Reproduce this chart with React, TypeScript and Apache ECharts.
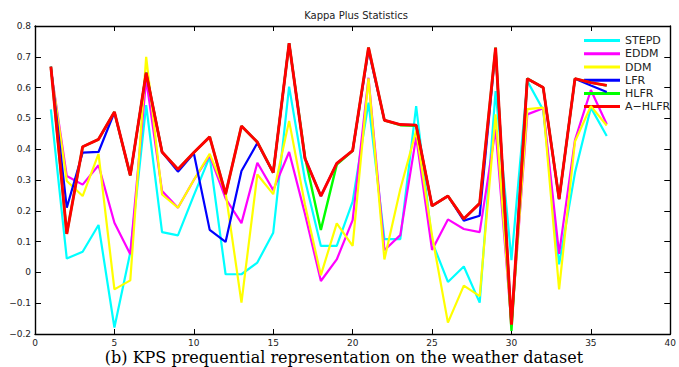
import React, { useEffect, useRef } from "react";
import * as echarts from "echarts";

const steps = [1, 2, 3, 4, 5, 6, 7, 8, 9, 10, 11, 12, 13, 14, 15, 16, 17, 18, 19, 20, 21, 22, 23, 24, 25, 26, 27, 28, 29, 30, 31, 32, 33, 34, 35, 36];

const stepd = [0.529, 0.045, 0.067, 0.154, -0.179, 0.065, 0.543, 0.131, 0.12, 0.25, 0.375, -0.006, -0.006, 0.032, 0.129, 0.603, 0.3, 0.086, 0.086, 0.23, 0.551, 0.108, 0.108, 0.54, 0.1, -0.031, 0.019, -0.098, 0.589, 0.04, 0.621, 0.527, 0.026, 0.324, 0.535, 0.443];
const eddm = [0.66, 0.313, 0.285, 0.348, 0.161, 0.059, 0.627, 0.264, 0.21, 0.3, 0.38, 0.24, 0.16, 0.356, 0.267, 0.391, 0.19, -0.028, 0.042, 0.17, 0.632, 0.072, 0.121, 0.44, 0.073, 0.172, 0.141, 0.131, 0.465, -0.17, 0.513, 0.533, 0.06, 0.43, 0.592, 0.481];
const ddm = [0.66, 0.297, 0.248, 0.385, -0.055, -0.026, 0.7, 0.253, 0.21, 0.3, 0.385, 0.26, -0.098, 0.318, 0.254, 0.492, 0.22, -0.009, 0.159, 0.086, 0.63, 0.042, 0.27, 0.46, 0.12, -0.163, -0.043, -0.077, 0.513, -0.17, 0.53, 0.535, -0.055, 0.425, 0.54, 0.477];
const lfr = [0.668, 0.21, 0.389, 0.391, 0.52, 0.315, 0.648, 0.391, 0.327, 0.387, 0.138, 0.099, 0.329, 0.42, 0.324, 0.744, 0.37, 0.248, 0.354, 0.395, 0.722, 0.494, 0.48, 0.478, 0.216, 0.248, 0.168, 0.184, 0.725, -0.17, 0.629, 0.6, 0.238, 0.629, 0.607, 0.586];
const hlfr = [0.668, 0.125, 0.408, 0.432, 0.521, 0.315, 0.648, 0.391, 0.335, 0.389, 0.44, 0.254, 0.475, 0.423, 0.324, 0.744, 0.375, 0.138, 0.35, 0.395, 0.73, 0.494, 0.478, 0.476, 0.216, 0.248, 0.174, 0.224, 0.73, -0.19, 0.629, 0.6, 0.238, 0.629, 0.616, 0.607];
const ahlfr = [0.668, 0.125, 0.408, 0.432, 0.521, 0.315, 0.648, 0.391, 0.335, 0.389, 0.44, 0.254, 0.475, 0.423, 0.324, 0.744, 0.37, 0.248, 0.354, 0.395, 0.73, 0.494, 0.48, 0.478, 0.216, 0.248, 0.174, 0.224, 0.73, -0.17, 0.629, 0.6, 0.238, 0.629, 0.616, 0.607];

const seriesNames = ["STEPD", "EDDM", "DDM", "LFR", "HLFR", "A\u2212HLFR"];
const seriesColors = ["#00ffff", "#ff00ff", "#ffff00", "#0000ff", "#00ff00", "#ff0000"];
const seriesWidths = [2.2, 2.2, 2.2, 2.2, 2.4, 2.9];
const seriesValues = [stepd, eddm, ddm, lfr, hlfr, ahlfr];

const xTicks = { min: 0, max: 40, interval: 5 };
const yTicks = { min: -0.2, max: 0.8, interval: 0.1 };

const titleText = "Kappa Plus Statistics";
const captionText = "(b) KPS prequential representation on the weather dataset";

const sans = "DejaVu Sans";

export default function App() {
  const ref = useRef<HTMLDivElement>(null);
  useEffect(() => {
    document.body.style.margin = "0";
    const chart = echarts.init(ref.current as HTMLDivElement, null, { renderer: "svg" });
    const fmtY = (v: number) => {
      const r = Math.round(v * 10) / 10;
      if (Math.abs(r) < 1e-9) return "0";
      return r < 0 ? "\u2212" + Math.abs(r).toFixed(1) : r.toFixed(1);
    };
    const axisLine = { show: true, onZero: false, lineStyle: { color: "#000", width: 1.4 } };
    chart.setOption({
      animation: false,
      backgroundColor: "#fff",
      title: {
        text: titleText,
        left: 356,
        top: 10,
        textAlign: "center",
        padding: 0,
        textStyle: { fontFamily: sans, fontSize: 10, fontWeight: "normal", color: "#222" },
      },
      legend: {
        data: seriesNames,
        orient: "vertical",
        left: 584,
        top: 34,
        padding: 0,
        itemGap: 0,
        itemWidth: 36,
        itemHeight: 3,
        icon: "rect",
        selectedMode: false,
        textStyle: { fontFamily: sans, fontSize: 11, color: "#222", lineHeight: 13.2 },
      },
      grid: { left: 35, top: 26, width: 642, height: 308, containLabel: false },
      xAxis: [
        {
          type: "value",
          min: xTicks.min,
          max: xTicks.max,
          interval: xTicks.interval,
          axisLine,
          axisTick: { show: true, inside: true, length: 5, lineStyle: { color: "#000" } },
          axisLabel: { fontFamily: sans, fontSize: 9, color: "#222", margin: 4 },
          splitLine: { show: false },
        },
        {
          type: "value",
          position: "top",
          min: xTicks.min,
          max: xTicks.max,
          interval: xTicks.interval,
          axisLine,
          axisTick: { show: true, inside: true, length: 5, lineStyle: { color: "#000" } },
          axisLabel: { show: false },
          splitLine: { show: false },
        },
      ],
      yAxis: [
        {
          type: "value",
          min: yTicks.min,
          max: yTicks.max,
          interval: yTicks.interval,
          axisLine,
          axisTick: { show: true, inside: true, length: 6, lineStyle: { color: "#000" } },
          axisLabel: { fontFamily: sans, fontSize: 9, color: "#222", margin: 4, formatter: fmtY },
          splitLine: { show: false },
        },
        {
          type: "value",
          position: "right",
          min: yTicks.min,
          max: yTicks.max,
          interval: yTicks.interval,
          axisLine,
          axisTick: { show: true, inside: true, length: 6, lineStyle: { color: "#000" } },
          axisLabel: { show: false },
          splitLine: { show: false },
        },
      ],
      series: seriesNames.map((name, i) => ({
        name,
        type: "line",
        xAxisIndex: 0,
        yAxisIndex: 0,
        showSymbol: false,
        symbol: "none",
        color: seriesColors[i],
        lineStyle: { color: seriesColors[i], width: seriesWidths[i] },
        data: steps.map((s, j) => [s, seriesValues[i][j]]),
        z: 2 + i,
      })),
      graphic: [
        {
          type: "text",
          x: 344,
          y: 357.5,
          style: {
            text: captionText,
            fontFamily: "DejaVu Serif",
            fontSize: 16,
            fill: "#000",
            align: "center",
            verticalAlign: "middle",
          },
        },
      ],
    });
    return () => chart.dispose();
  }, []);
  return <div ref={ref} style={{ width: 679, height: 367 }} />;
}
